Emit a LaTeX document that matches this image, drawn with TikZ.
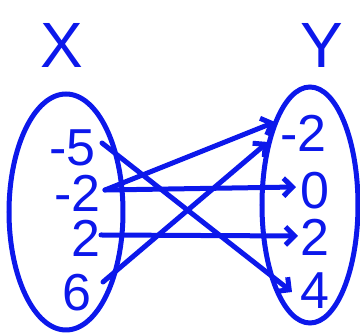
\documentclass[tikz,border=0pt]{standalone}
\usepackage{fontspec}
\setmainfont{Liberation Sans}
\usetikzlibrary{arrows.meta,shapes.geometric}
\definecolor{ink}{RGB}{12,24,235}
\begin{document}
\begin{tikzpicture}[x=1pt,y=-1pt,
  setbox/.style={draw=ink, line width=5pt, ellipse, inner sep=0pt},
  title/.style={text=ink, font=\fontsize{64}{64}\selectfont, inner sep=0pt},
  lbl/.style={text=ink, font=\fontsize{52}{52}\selectfont, inner sep=0pt,
    text height=37pt, text depth=0pt},
  map/.style={draw=ink, line width=5pt, line cap=round, line join=round,
    -{Straight Barb[length=9pt,width=18pt,line width=5pt]}}]
\useasboundingbox (0,0) rectangle (360,336);
\node[setbox, minimum width=114pt, minimum height=236pt] (setX) at (66,212) {};
\node[setbox, minimum width=96pt, minimum height=236pt] (setY) at (310,205) {};
\node[title] (X) at (62,45) {X};
\node[title] (Y) at (322,45) {Y};
\node[lbl, anchor=east] (xm5) at (96,147) {-5};
\node[lbl, anchor=east] (xm2) at (101,193) {-2};
\node[lbl, anchor=east] (x2) at (101,238) {2};
\node[lbl, anchor=east] (x6) at (92,292) {6};
\node[lbl, anchor=west] (ym2) at (280,133) {-2};
\node[lbl, anchor=west] (y0) at (300,190) {0};
\node[lbl, anchor=west] (y2) at (300,237) {2};
\node[lbl, anchor=west] (y4) at (300,290) {4};
\draw[map] ([shift={(6,-4)}]xm5.east) -- ([shift={(-8,2)}]y4.west);
\draw[map] ([shift={(4,-3)}]xm2.east) -- ([shift={(-5,-11)}]ym2.west);
\draw[map] ([shift={(4,-3)}]xm2.east) -- ([shift={(-4,-3)}]y0.west);
\draw[map] ([shift={(0,-3)}]x2.east) -- ([shift={(-2,-1)}]y2.west);
\draw[map] ([shift={(11,-10)}]x6.east) -- ([shift={(-12,9)}]ym2.west);
\end{tikzpicture}
\end{document}
